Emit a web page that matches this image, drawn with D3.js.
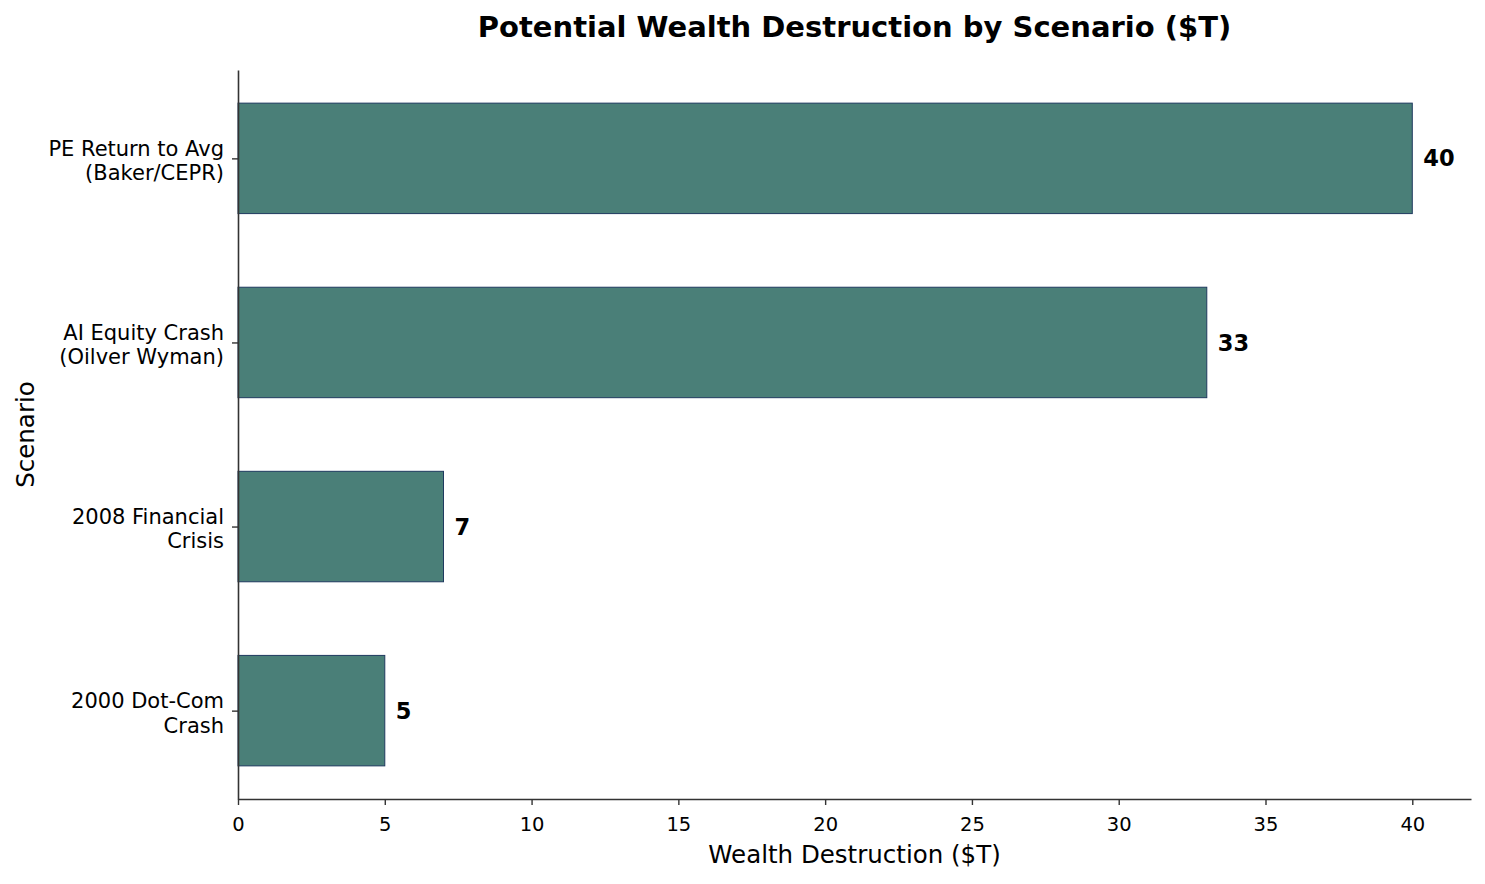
<!DOCTYPE html>
<html>
<head>
<meta charset="utf-8">
<script src="https://cdn.jsdelivr.net/npm/d3@7"></script>
<style>
body { margin: 0; background: #fff; }
svg { font-family: "DejaVu Sans", sans-serif; }
</style>
</head>
<body>
<svg width="1485" height="884"></svg>
<script>
const scenarios = [
  ["PE Return to Avg", "(Baker/CEPR)"],
  ["AI Equity Crash", "(Oilver Wyman)"],
  ["2008 Financial", "Crisis"],
  ["2000 Dot-Com", "Crash"]
];
const values = [40, 33, 7, 5];
const xTicks = [0, 5, 10, 15, 20, 25, 30, 35, 40];

const plotLeft = 238, plotRight = 1471, plotTop = 70, plotBottom = 799;
const svg = d3.select("svg");

const x = d3.scaleLinear().domain([0, 42]).range([plotLeft, plotRight]);
// positions 0..3 from top, matplotlib-like margins
const y = d3.scaleLinear().domain([-0.48, 3.48]).range([plotTop, plotBottom]);
const barH = y(0.6) - y(0);

svg.selectAll("rect.bar")
  .data(values)
  .enter()
  .append("rect")
  .attr("class", "bar")
  .attr("x", x(0))
  .attr("y", (d, i) => y(i - 0.3))
  .attr("width", d => x(d) - x(0))
  .attr("height", barH)
  .attr("fill", "#4a7f78")
  .attr("stroke", "#1f3a5f")
  .attr("stroke-width", 1);

svg.selectAll("text.val")
  .data(values)
  .enter()
  .append("text")
  .attr("class", "val")
  .attr("x", d => x(d) + 11)
  .attr("y", (d, i) => y(i))
  .attr("dy", "0.36em")
  .attr("font-size", 22.5)
  .attr("font-weight", "bold")
  .text(d => d);

// x axis
const xAxis = svg.append("g")
  .attr("transform", "translate(0," + plotBottom + ")")
  .call(d3.axisBottom(x).tickValues(xTicks).tickSize(6).tickPadding(12).tickSizeOuter(0));
xAxis.select(".domain").attr("stroke", "#333").attr("stroke-width", 1.6);
xAxis.selectAll(".tick line").attr("stroke", "#333").attr("stroke-width", 1.4);
xAxis.selectAll(".tick text").attr("font-size", 19.5).attr("fill", "#000").attr("font-family", "DejaVu Sans");

// y axis
const yAxis = svg.append("g")
  .attr("transform", "translate(" + plotLeft + ",0)")
  .call(d3.axisLeft(y).tickValues([0, 1, 2, 3]).tickSize(6).tickFormat("").tickSizeOuter(0));
yAxis.select(".domain").attr("stroke", "#333").attr("stroke-width", 1.6);
yAxis.selectAll(".tick line").attr("stroke", "#333").attr("stroke-width", 1.4);

scenarios.forEach((lines, i) => {
  const t = svg.append("text")
    .attr("x", plotLeft - 14)
    .attr("y", y(i) + 2)
    .attr("text-anchor", "end")
    .attr("font-size", 21);
  t.append("tspan").attr("x", plotLeft - 14).attr("dy", "-0.2em").text(lines[0]);
  t.append("tspan").attr("x", plotLeft - 14).attr("dy", "1.15em").text(lines[1]);
});

svg.append("text")
  .attr("x", (plotLeft + plotRight) / 2)
  .attr("y", 37)
  .attr("text-anchor", "middle")
  .attr("font-size", 29)
  .attr("font-weight", "bold")
  .text("Potential Wealth Destruction by Scenario ($T)");

svg.append("text")
  .attr("x", (plotLeft + plotRight) / 2)
  .attr("y", 863)
  .attr("text-anchor", "middle")
  .attr("font-size", 24.5)
  .text("Wealth Destruction ($T)");

svg.append("text")
  .attr("transform", "translate(34," + ((plotTop + plotBottom) / 2) + ") rotate(-90)")
  .attr("text-anchor", "middle")
  .attr("font-size", 24.5)
  .text("Scenario");
</script>
</body>
</html>
